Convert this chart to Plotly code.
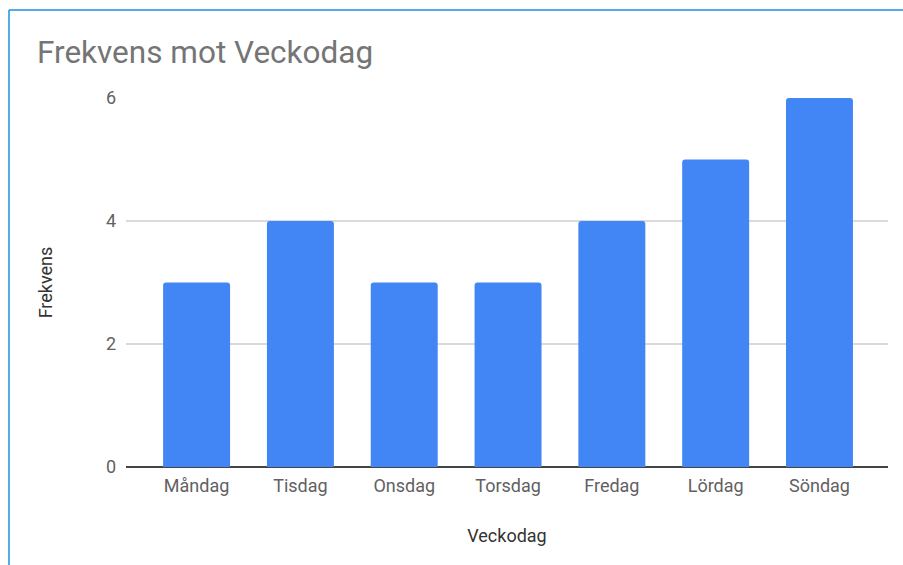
import plotly.graph_objects as go

days = ["Måndag", "Tisdag", "Onsdag", "Torsdag", "Fredag", "Lördag", "Söndag"]
freq = [3, 4, 3, 3, 4, 5, 6]
y_ticks = [0, 2, 4, 6]

W, H = 903, 565
L, R, T, B = 126, 15, 98, 98
pw, ph = W - L - R, H - T - B

fig = go.Figure(go.Bar(
    x=days, y=freq, marker_color="#4285F4", marker_line_width=0,
))

fig.update_layout(
    width=W, height=H,
    margin=dict(l=L, r=R, t=T, b=B),
    paper_bgcolor="white", plot_bgcolor="white",
    bargap=0.355,
    barcornerradius=3,
    font=dict(family="Roboto", color="#616161"),
    title=dict(text="Frekvens mot Veckodag", x=37 / W, xanchor="left",
               y=1 - 52 / H, yanchor="middle",
               font=dict(size=31.5, color="#757575", family="Roboto")),
    showlegend=False,
    xaxis=dict(range=[-0.68, 6.66], showgrid=False, showline=False,
               tickfont=dict(size=18, color="#616161"), ticks="",
               ticklabelstandoff=6,
               title=dict(text="Veckodag", font=dict(size=18, color="#333333"), standoff=34)),
    yaxis=dict(range=[0, 6], tickvals=y_ticks, showgrid=True, gridcolor="#dadada",
               gridwidth=1.5, zeroline=True, zerolinecolor="#444444", zerolinewidth=2,
               tickfont=dict(size=18, color="#616161"), ticks="",
               ticklabelstandoff=9,
               title=dict(text="Frekvens", font=dict(size=18, color="#333333"), standoff=48)),
)

# selection border from the screenshot (blue frame on top and left)
bx = (9 - L) / pw
by = (H - B - 10) / ph
bottom = -B / ph
right = (W - L) / pw
fig.add_shape(type="line", xref="paper", yref="paper", x0=bx, x1=right, y0=by, y1=by,
              line=dict(color="#1a8fe0", width=1.5))
fig.add_shape(type="line", xref="paper", yref="paper", x0=bx, x1=bx, y0=by, y1=bottom,
              line=dict(color="#1a8fe0", width=1.5))

fig.write_html("out.html", config={"displayModeBar": False},
               post_script="document.body.style.margin='0';document.body.style.overflow='hidden';")
